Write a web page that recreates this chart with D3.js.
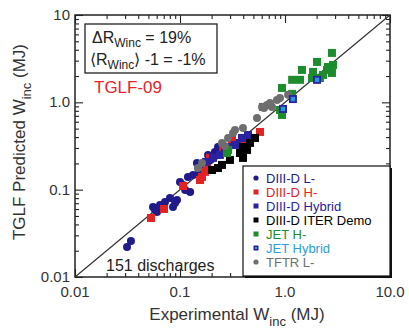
<!DOCTYPE html>
<html>
<head>
<meta charset="utf-8">
<script src="https://cdn.jsdelivr.net/npm/d3@7"></script>
<style>
  body { margin: 0; background: #fff; }
  svg { font-family: "Liberation Sans", Arial, sans-serif; }
</style>
</head>
<body>
<div id="chart"></div>
<script>
// experimental vs predicted W_inc (MJ), per group
const d3dL = [[0.0313,0.0221],[0.0341,0.0258],[0.0553,0.0634],[0.0604,0.0556],[0.0645,0.0668],[0.0578,0.0585],
  [0.0720,0.0723],[0.0803,0.0803],[0.0858,0.0634],[0.0897,0.0705],[0.0936,0.0762],[0.100,0.1225],[0.107,0.113],
  [0.125,0.0941],[0.119,0.140],[0.133,0.147],[0.145,0.202],[0.152,0.160],[0.185,0.250],[0.215,0.270],[0.193,0.219],
  [0.173,0.192],[0.230,0.308],[0.257,0.285],[0.225,0.263],[0.349,0.343],[0.112,0.0993]];
const d3dH = [[0.0529,0.0474],[0.0704,0.0601],[0.107,0.110],[0.155,0.129],[0.162,0.140],[0.173,0.160],[0.257,0.308],
  [0.193,0.231],[0.416,0.371],[0.578,0.458],[0.181,0.177],[0.313,0.371]];
const d3dHybrid = [[0.206,0.231],[0.240,0.250],[0.287,0.308],[0.334,0.325],[0.389,0.391],[0.268,0.270],[0.444,0.423],[0.177,0.208]];
const d3dIter = [[0.202,0.168],[0.230,0.177],[0.251,0.192],[0.373,0.263],[0.435,0.285],[0.398,0.231],[0.518,0.391],
  [0.464,0.343],[0.398,0.308],[0.299,0.219]];
const jetH = [[0.280,0.263],[0.287,0.285],[0.617,0.886],[0.896,0.818],[0.936,0.717],[0.936,1.46],[1.17,1.25],[1.17,1.81],
  [1.39,1.81],[1.45,2.35],[1.85,2.23],[2.02,2.90],[2.80,3.68],[2.87,2.68],[2.51,2.35],[2.30,2.06],[2.15,1.90],
  [2.57,2.54],[1.81,1.90],[2.80,2.17]];
const jetHybrid = [[2.02,1.81],[1.19,1.09],[0.957,0.84]];
const tftrL = [[0.674,0.934],[0.720,0.984],[0.839,1.06],[0.896,1.12],[0.752,0.886],[0.541,0.662],[0.398,0.509],
  [0.334,0.483],[0.320,0.446],[0.251,0.343],[0.162,0.202],[0.631,0.863],[1.07,1.22],[0.604,0.886],[0.287,0.391],
  [0.268,0.317],[0.148,0.177]];

const groupNames = ["DIII-D L-", "DIII-D H-", "DIII-D Hybrid", "DIII-D ITER Demo", "JET H-", "JET Hybrid", "TFTR L-"];
const groupData = [d3dL, d3dH, d3dHybrid, d3dIter, jetH, jetHybrid, tftrL];
const xTickLabels = ["0.01", "0.1", "1.0", "10.0"];
const yTickLabels = ["0.01", "0.1", "1.0", "10"];

const styles = [
  { shape: "circle", fill: "#201a8c", text: "#201a8c" },
  { shape: "square", fill: "#e32222", text: "#e32222" },
  { shape: "square", fill: "#2a22a0", text: "#2a22a0" },
  { shape: "square", fill: "#000", text: "#000" },
  { shape: "square", fill: "#1c8c2c", text: "#1c8c2c" },
  { shape: "hybrid", fill: "#2a96e0", text: "#2a9ee0" },
  { shape: "circle", fill: "#6e6e6e", text: "#6e6e6e" }
];
const drawOrder = [0, 1, 2, 3, 4, 6, 5];

const width = 409, height = 333;
const m = { left: 75, right: 19, top: 15, bottom: 56 };

const svg = d3.select('#chart').append('svg').attr('width', width).attr('height', height);

const x = d3.scaleLog().domain([0.01, 10]).range([m.left, width - m.right]);
const y = d3.scaleLog().domain([0.01, 10]).range([height - m.bottom, m.top]);

const isMajor = v => Math.abs(Math.log10(v) - Math.round(Math.log10(v))) < 1e-6;

// axes with inward ticks on all four sides
const tickFmt = () => '';
svg.append('g').attr('transform', `translate(0,${y.range()[0]})`)
  .call(d3.axisTop(x).tickFormat(tickFmt).tickSizeOuter(0).tickSize(4));
svg.append('g').attr('transform', `translate(0,${y.range()[1]})`)
  .call(d3.axisBottom(x).tickFormat(tickFmt).tickSizeOuter(0).tickSize(4));
svg.append('g').attr('transform', `translate(${x.range()[0]},0)`)
  .call(d3.axisRight(y).tickFormat(tickFmt).tickSizeOuter(0).tickSize(4));
svg.append('g').attr('transform', `translate(${x.range()[1]},0)`)
  .call(d3.axisLeft(y).tickFormat(tickFmt).tickSizeOuter(0).tickSize(4));
svg.selectAll('.tick line').attr('stroke', '#222').attr('stroke-width', 1.1);
svg.selectAll('.tick').each(function (d) {
  if (isMajor(d)) {
    const l = d3.select(this).select('line');
    ['x2', 'y2'].forEach(k => { const v = +l.attr(k); if (v) l.attr(k, v * 2); });
  }
});
svg.selectAll('.domain').remove();
svg.append('rect').attr('x', x.range()[0]).attr('y', y.range()[1])
  .attr('width', x.range()[1] - x.range()[0]).attr('height', y.range()[0] - y.range()[1])
  .attr('fill', 'none').attr('stroke', '#222').attr('stroke-width', 1.5);

// tick labels
const majors = [0.01, 0.1, 1, 10];
svg.selectAll('.xl').data(majors).enter().append('text')
  .attr('x', d => x(d)).attr('y', y.range()[0] + 20).attr('text-anchor', 'middle')
  .attr('font-size', 15).attr('fill', '#333').text((d, i) => xTickLabels[i]);
svg.selectAll('.yl').data(majors).enter().append('text')
  .attr('x', x.range()[0] - 5).attr('y', d => y(d) + 5).attr('text-anchor', 'end')
  .attr('font-size', 15).attr('fill', '#333').text((d, i) => yTickLabels[i]);

// axis titles
const xt = svg.append('text').attr('x', 237).attr('y', 320).attr('text-anchor', 'middle')
  .attr('font-size', 17).attr('fill', '#333');
xt.append('tspan').text('Experimental W');
xt.append('tspan').attr('dy', 6).attr('font-size', 13).text('inc');
xt.append('tspan').attr('dy', -6).text(' (MJ)');

const yt = svg.append('text').attr('transform', 'translate(25,142) rotate(-90)').attr('text-anchor', 'middle')
  .attr('font-size', 17).attr('fill', '#333');
yt.append('tspan').text('TGLF Predicted W');
yt.append('tspan').attr('dy', 6).attr('font-size', 13).text('inc');
yt.append('tspan').attr('dy', -6).text(' (MJ)');

// y = x line
svg.append('line').attr('x1', x(0.01)).attr('y1', y(0.01)).attr('x2', x(10)).attr('y2', y(10))
  .attr('stroke', '#333').attr('stroke-width', 1.2);

// markers
function drawMarker(g, s, cx, cy) {
  if (s.shape === 'circle') {
    g.append('circle').attr('cx', cx).attr('cy', cy).attr('r', 4).attr('fill', s.fill);
  } else if (s.shape === 'square') {
    g.append('rect').attr('x', cx - 4).attr('y', cy - 4).attr('width', 8).attr('height', 8).attr('fill', s.fill);
  } else {
    g.append('rect').attr('x', cx - 4).attr('y', cy - 4).attr('width', 8).attr('height', 8).attr('fill', '#2a22a0');
    g.append('rect').attr('x', cx - 2.2).attr('y', cy - 2.2).attr('width', 4.4).attr('height', 4.4).attr('fill', s.fill);
  }
}
const pts = svg.append('g');
drawOrder.forEach(i => {
  groupData[i].forEach(p => drawMarker(pts, styles[i], x(p[0]), y(p[1])));
});

// stats box
svg.append('rect').attr('x', 85).attr('y', 24).attr('width', 132).attr('height', 49)
  .attr('fill', '#fff').attr('stroke', '#222').attr('stroke-width', 1.3);
const t1 = svg.append('text').attr('x', 92).attr('y', 43).attr('font-size', 16).attr('fill', '#222');
t1.append('tspan').text('ΔR');
t1.append('tspan').attr('dy', 4).attr('font-size', 12).text('Winc');
t1.append('tspan').attr('dy', -4).text(' = 19%');
const t2 = svg.append('text').attr('x', 90).attr('y', 65).attr('font-size', 16).attr('fill', '#222');
t2.append('tspan').text('⟨R');
t2.append('tspan').attr('dy', 4).attr('font-size', 12).text('Winc');
t2.append('tspan').attr('dy', -4).text('⟩ -1 = -1%');

svg.append('text').attr('x', 94).attr('y', 93).attr('font-size', 17).attr('fill', '#e8242a').text('TGLF-09');
svg.append('text').attr('x', 106).attr('y', 271).attr('font-size', 16).attr('fill', '#222').text('151 discharges');

// legend
const lg = svg.append('g').attr('transform', 'translate(243,166)');
lg.append('rect').attr('x', 2).attr('y', 2).attr('width', 147).attr('height', 110).attr('fill', '#111');
lg.append('rect').attr('width', 147).attr('height', 110).attr('fill', '#fff').attr('stroke', '#111').attr('stroke-width', 1.2);
groupNames.forEach((name, i) => {
  const cy = 12 + i * 14;
  const s = styles[i];
  const mk = lg.append('g');
  if (s.shape === 'circle') mk.append('circle').attr('cx', 13).attr('cy', cy).attr('r', 2.6).attr('fill', s.fill);
  else if (s.shape === 'square') mk.append('rect').attr('x', 10.5).attr('y', cy - 2.5).attr('width', 5).attr('height', 5).attr('fill', s.fill);
  else {
    mk.append('rect').attr('x', 10.5).attr('y', cy - 2.5).attr('width', 5).attr('height', 5).attr('fill', '#2a22a0');
    mk.append('rect').attr('x', 12).attr('y', cy - 1).attr('width', 2).attr('height', 2).attr('fill', s.fill);
  }
  lg.append('text').attr('x', 23).attr('y', cy + 5).attr('font-size', 13).attr('fill', s.text).text(name);
});
</script>
</body>
</html>
